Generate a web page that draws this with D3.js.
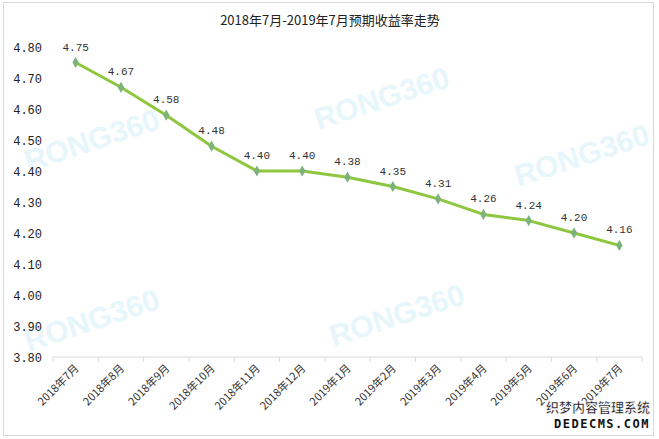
<!DOCTYPE html>
<html><head><meta charset="utf-8">
<script src="https://cdn.jsdelivr.net/npm/d3@7"></script>
<style>body{margin:0;background:#fff}</style>
</head><body>
<script>
const categories = ["2018年7月","2018年8月","2018年9月","2018年10月","2018年11月","2018年12月","2019年1月","2019年2月","2019年3月","2019年4月","2019年5月","2019年6月","2019年7月"];
const values = [4.75,4.67,4.58,4.48,4.40,4.40,4.38,4.35,4.31,4.26,4.24,4.20,4.16];
const yTicks = [3.80,3.90,4.00,4.10,4.20,4.30,4.40,4.50,4.60,4.70,4.80];
const title = "2018年7月-2019年7月预期收益率走势";

const W = 659, H = 439;
const svg = d3.select("body").append("svg").attr("width", W).attr("height", H);
svg.append("rect").attr("x",3.5).attr("y",2.5).attr("width",650).attr("height",433)
  .attr("fill","#fff").attr("stroke","#d9d9d9");

// watermarks
const wm = [[95,150],[385,108],[585,165],[95,330],[400,325]];
wm.forEach(([x,y])=>{
  svg.append("text").attr("transform",`translate(${x},${y}) rotate(-18)`)
    .attr("text-anchor","middle").attr("font-family","Arial, Liberation Sans")
    .attr("font-weight","bold").attr("font-size",30).attr("fill","#e6f6fb").text("RONG360");
});

const x = d3.scaleBand().domain(categories).range([53, 642]);
const y = d3.scaleLinear().domain([3.8, 4.8]).range([357, 47]);

svg.append("text").attr("x", 330).attr("y", 25).attr("text-anchor","middle")
  .attr("font-family","Noto Sans CJK SC").attr("font-size",13).attr("fill","#222").text(title);

// y axis labels
const gy = svg.append("g").attr("transform","translate(42,0)")
  .call(d3.axisLeft(y).tickValues(yTicks).tickFormat(d3.format(".2f")).tickSize(0).tickPadding(0));
gy.select(".domain").remove();
gy.selectAll("text").attr("font-family","Liberation Mono, DejaVu Sans Mono").attr("font-size",12).attr("fill","#222").attr("dy","0.35em");

// x axis
const gx = svg.append("g").attr("transform","translate(0,357)");
gx.append("line").attr("x1",53).attr("x2",642).attr("stroke","#d9d9d9");
const bounds = categories.map(c=>x(c)).concat([x.range()[1]]);
gx.selectAll("line.tk").data(bounds).enter().append("line").attr("class","tk")
  .attr("x1",d=>d).attr("x2",d=>d).attr("y1",0).attr("y2",5).attr("stroke","#d9d9d9");
gx.selectAll("text").data(categories).enter().append("text")
  .attr("transform",d=>`translate(${x(d)+x.bandwidth()/2+4},${12}) rotate(-45)`)
  .attr("text-anchor","end").attr("font-family","Noto Sans CJK SC").attr("font-size",11)
  .attr("fill","#333").text(d=>d);

// line
const cx = (d,i)=>x(categories[i])+x.bandwidth()/2;
svg.append("path").datum(values).attr("fill","none").attr("stroke","#8dc63f").attr("stroke-width",3)
  .attr("stroke-linejoin","round")
  .attr("d", d3.line().x((d,i)=>cx(d,i)).y(d=>y(d)));
svg.selectAll("path.m").data(values).enter().append("path").attr("class","m")
  .attr("d", d3.symbol().type(d3.symbolDiamond).size(36))
  .attr("transform",(d,i)=>`translate(${cx(d,i)},${y(d)})`).attr("fill","#7db37a");
svg.selectAll("text.lbl").data(values).enter().append("text").attr("class","lbl")
  .attr("x",(d,i)=>cx(d,i)).attr("y",d=>y(d)-12).attr("text-anchor","middle")
  .attr("font-family","Liberation Mono, DejaVu Sans Mono").attr("font-size",11).attr("fill","#333")
  .text(d=>d.toFixed(2));

// bottom-right watermark
svg.append("text").attr("x",650).attr("y",412).attr("text-anchor","end").attr("font-family","Noto Sans CJK SC")
  .attr("font-size",13).attr("font-weight","bold").attr("fill","#111").attr("stroke","#fff").attr("stroke-width",0.5).text("织梦内容管理系统");
svg.append("text").attr("x",650).attr("y",428).attr("text-anchor","end").attr("font-family","DejaVu Sans Mono")
  .attr("font-size",12).attr("font-weight","bold").attr("letter-spacing",1.5).attr("fill","#111").text("DEDECMS.COM");
</script>
</body></html>
